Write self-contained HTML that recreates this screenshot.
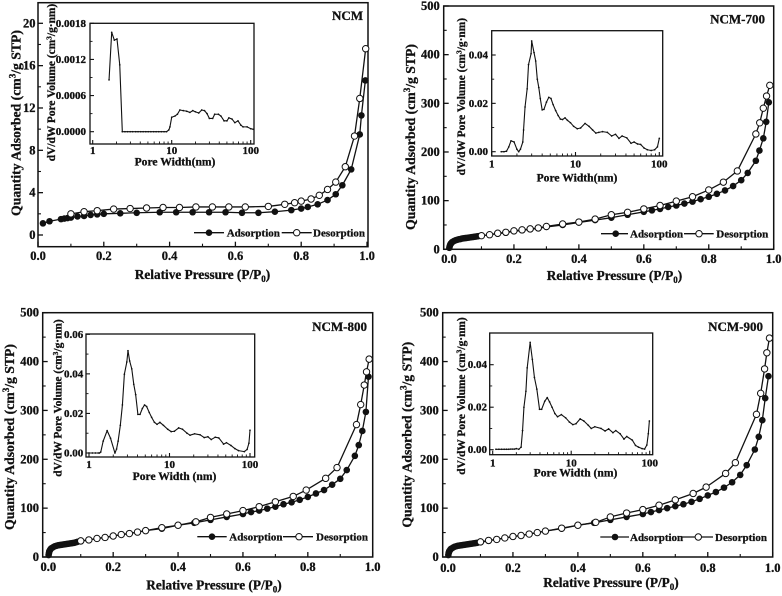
<!DOCTYPE html>
<html lang="en">
<head>
<meta charset="utf-8">
<title>Nitrogen isotherms for NCM samples</title>
<style>
html,body{margin:0;padding:0;background:#fff;width:782px;height:596px;overflow:hidden}
svg{display:block;filter:blur(0.35px)}
text{font-family:"Liberation Serif",serif;font-weight:bold;fill:#111;stroke:#111;stroke-width:0.3px}
.main-title{font-size:13.3px;text-anchor:middle}
.y-title{font-size:13.7px;text-anchor:middle}
.inset-title{font-size:11.6px;text-anchor:middle}
.inset-y{font-size:11.4px;text-anchor:middle}
.legend{font-size:11px}
.name{font-size:13px;text-anchor:end}
.tick{font-size:12.5px}
.inset-tick{font-size:11px}
</style>
</head>
<body>
<svg id="figure" xmlns="http://www.w3.org/2000/svg" width="782" height="596" viewBox="0 0 782 596">
<rect width="782" height="596" fill="#fff"/>

<g id="panel-a">
<text class="name" x="363" y="20">NCM</text>
<text class="main-title" x="202.5" y="279">Relative Pressure (P/P<tspan dy="3" font-size="9">0</tspan><tspan dy="-3">)</tspan></text>
<text class="y-title" transform="translate(20.7,123) rotate(-90)">Quantity Adsorbed (cm<tspan dy="-5" font-size="9">3</tspan><tspan dy="5">/g STP)</tspan></text>
<text class="inset-title" x="175" y="165.7">Pore Width(nm)</text>
<text class="inset-y" transform="translate(55,82.5) rotate(-90)">dV/dW Pore Volume (cm<tspan dy="-3.5" font-size="7.5">3</tspan><tspan dy="3.5">/g·nm)</tspan></text>
<text class="legend" x="226.7" y="236.5">Adsorption</text>
<text class="legend" x="313" y="236.5">Desorption</text>
</g>

<g id="panel-b">
<text class="name" x="765" y="23.3">NCM-700</text>
<text class="main-title" x="614.5" y="280">Relative Pressure (P/P<tspan dy="3" font-size="9">0</tspan><tspan dy="-3">)</tspan></text>
<text class="y-title" transform="translate(415,137) rotate(-90)">Quantity Adsorbed (cm<tspan dy="-5" font-size="9">3</tspan><tspan dy="5">/g STP)</tspan></text>
<text class="inset-title" x="577" y="181.7">Pore Width(nm)</text>
<text class="inset-y" transform="translate(465,96.7) rotate(-90)">dV/dW Pore Volume (cm<tspan dy="-3.5" font-size="7.5">3</tspan><tspan dy="3.5">/g·nm)</tspan></text>
<text class="legend" x="630" y="237.5">Adsorption</text>
<text class="legend" x="716.3" y="237.5">Desorption</text>
</g>

<g id="panel-c">
<text class="name" x="367" y="331">NCM-800</text>
<text class="main-title" x="214" y="589.7">Relative Pressure (P/P<tspan dy="3" font-size="9">0</tspan><tspan dy="-3">)</tspan></text>
<text class="y-title" transform="translate(14,437) rotate(-90)">Quantity Adsorbed (cm<tspan dy="-5" font-size="9">3</tspan><tspan dy="5">/g STP)</tspan></text>
<text class="inset-title" x="174.5" y="480">Pore Width (nm)</text>
<text class="inset-y" transform="translate(61.7,398) rotate(-90)">dV/dW Pore Volume (cm<tspan dy="-3.5" font-size="7.5">3</tspan><tspan dy="3.5">/g·nm)</tspan></text>
<text class="legend" x="229.3" y="540.5">Adsorption</text>
<text class="legend" x="316" y="540.5">Desorption</text>
</g>

<g id="panel-d">
<text class="name" x="763" y="331">NCM-900</text>
<text class="main-title" x="611" y="587">Relative Pressure (P/P<tspan dy="3" font-size="9">0</tspan><tspan dy="-3">)</tspan></text>
<text class="y-title" transform="translate(411.7,434.7) rotate(-90)">Quantity Adsorbed (cm<tspan dy="-5" font-size="9">3</tspan><tspan dy="5">/g STP)</tspan></text>
<text class="inset-title" x="575.5" y="476.7">Pore Width (nm)</text>
<text class="inset-y" transform="translate(465,396) rotate(-90)">dV/dW Pore Volume (cm<tspan dy="-3.5" font-size="7.5">3</tspan><tspan dy="3.5">/g·nm)</tspan></text>
<text class="legend" x="630" y="541">Adsorption</text>
<text class="legend" x="715" y="541">Desorption</text>
</g>
</svg>

<script>
// ---------- data ----------
const pressureTicks = [0, 0.2, 0.4, 0.6, 0.8, 1.0];
const poreTicks = [1, 10, 100];

// NCM
const ncmAdsP = [0.015,0.035,0.07,0.08,0.09,0.10,0.12,0.14,0.16,0.18,0.20,0.25,0.30,0.37,0.42,0.47,0.52,0.57,0.62,0.67,0.72,0.77,0.80,0.82,0.85,0.88,0.905,0.925,0.952,0.978,0.983,0.995];
const ncmAdsQ = [1.1,1.3,1.5,1.55,1.6,1.65,1.75,1.8,1.9,1.95,2.0,2.05,2.1,2.15,2.15,2.15,2.15,2.15,2.1,2.1,2.2,2.35,2.5,2.65,2.9,3.3,3.85,4.7,6.2,9.5,11.3,14.6];
const ncmDesP = [0.10,0.14,0.18,0.23,0.28,0.33,0.38,0.43,0.48,0.53,0.58,0.63,0.70,0.75,0.78,0.80,0.83,0.855,0.88,0.905,0.934,0.962,0.978,0.996];
const ncmDesQ = [2.0,2.2,2.3,2.45,2.5,2.55,2.6,2.6,2.65,2.65,2.65,2.65,2.7,2.9,3.05,3.2,3.4,3.75,4.3,5.0,6.45,9.35,12.9,17.6];
const ncmQTicks = [0, 4, 8, 12, 16, 20];
const ncmPoreW = [1.61,1.74,1.88,2.03,2.2,2.37,2.56,2.76,2.98,3.2,3.5,3.75,4.05,4.35,4.7,5.05,5.45,5.9,6.35,6.85,7.4,8,8.6,9.2,9.5,10,11,11.8,12.7,14,15.5,17,18.5,20,22,24,26,28,30,33,35,39,42,46,50,53,58,63,69,75,80,90,100,108];
const ncmPoreV = [0.00086,0.00165,0.00152,0.00154,0.00111,0,0,0,0,0,0,0,0,0,0,0,0,0,0,0,0,0,0,0.00003,0.00008,0.00024,0.00026,0.00029,0.00036,0.00035,0.00034,0.00032,0.00035,0.00033,0.00031,0.00036,0.00035,0.0003,0.00022,0.00022,0.00029,0.00029,0.00026,0.00018,0.00018,0.00023,0.00021,0.00015,0.00018,0.00011,0.00008,0.00008,0.00005,0.00004];
const ncmVTicks = [0, 0.0006, 0.0012, 0.0018];
const ncmVLabels = ["0.0000", "0.0006", "0.0012", "0.0018"];

// NCM-700
const n700AdsP = [0.001,0.002,0.003,0.004,0.006,0.008,0.01,0.015,0.02,0.025,0.03,0.035,0.04,0.045,0.05,0.055,0.06,0.065,0.07,0.075,0.08,0.085,0.09,0.1,0.125,0.15,0.175,0.2,0.225,0.25,0.275,0.3,0.35,0.4,0.45,0.5,0.55,0.6,0.625,0.65,0.675,0.7,0.725,0.75,0.775,0.8,0.825,0.85,0.875,0.9,0.92,0.945,0.956,0.968,0.977,0.985];
const n700AdsQ = [3,6,8,10,12,13.5,15,17,18.5,19.5,20.5,21,22,22.5,23,23.5,24,24.5,25,25.5,26,26.5,27,28,30,32,34,37,39,41,43,46,50,55,60,65,71,77,80,83,87,90,94,98,103,108,114,121,130,142,157,182,203,228,262,302];
const n700DesP = [0.1,0.125,0.15,0.175,0.2,0.225,0.25,0.275,0.3,0.35,0.4,0.45,0.5,0.55,0.6,0.65,0.7,0.75,0.8,0.845,0.888,0.945,0.957,0.968,0.978,0.988];
const n700DesQ = [28,30,33,35,38,40,42,44,47,52,56,62,71,76,83,90,99,108,122,138,161,237,260,290,315,337];
const n700QTicks = [0, 100, 200, 300, 400, 500];
const n700PoreW = [1.3,1.4,1.5,1.6,1.7,1.85,2.0,2.1,2.2,2.35,2.4,2.5,2.65,2.75,2.95,3.0,3.2,3.35,3.5,3.65,3.8,4.0,4.2,4.5,4.8,5.1,5.4,5.8,6.2,6.6,7,7.5,8,8.7,9.5,10.5,11.5,13,14.5,16,17.5,19,21,24,27,30,33,36,41,46,50,55,60,66,72,80,88,95,100];
const n700PoreV = [0,0,0.0002,0.002,0.0045,0.004,0.001,0,0.001,0.004,0.009,0.0185,0.026,0.036,0.0405,0.0458,0.041,0.0375,0.03,0.0265,0.022,0.0173,0.0175,0.0205,0.0225,0.022,0.0195,0.017,0.015,0.0135,0.0133,0.014,0.013,0.012,0.0105,0.0095,0.0098,0.0117,0.0105,0.009,0.0077,0.008,0.0083,0.008,0.0065,0.0072,0.0055,0.0065,0.0057,0.0035,0.004,0.0032,0.003,0.0015,0.0008,0.0005,0.0008,0.002,0.0055];
const n700VTicks = [0, 0.02, 0.04];
const n700VLabels = ["0.00", "0.02", "0.04"];

// NCM-800
const n800AdsP = [0.001,0.002,0.003,0.004,0.006,0.008,0.01,0.015,0.02,0.025,0.03,0.035,0.04,0.045,0.05,0.055,0.06,0.065,0.07,0.075,0.08,0.085,0.09,0.1,0.125,0.15,0.175,0.2,0.225,0.25,0.275,0.3,0.35,0.4,0.45,0.5,0.55,0.6,0.625,0.65,0.675,0.7,0.725,0.75,0.775,0.8,0.825,0.85,0.875,0.9,0.92,0.945,0.957,0.968,0.979,0.987];
const n800AdsQ = [4,8,11,13,15,17,18,20,22,23,24,24.5,25,25.5,26,26.5,27,27.5,28,28.5,29,30,31,32,35,38,40,43,46,48,51,54,58,65,70,76,82,88,92,95,99,103,108,112,117,123,130,137,148,160,178,207,229,258,297,369];
const n800DesP = [0.1,0.125,0.15,0.175,0.2,0.225,0.25,0.275,0.3,0.35,0.4,0.455,0.5,0.55,0.6,0.65,0.7,0.755,0.795,0.855,0.89,0.95,0.963,0.974,0.981,0.989];
const n800DesQ = [33,35,38,40,43,46,48,51,54,60,65,72,81,88,95,103,113,124,137,161,183,271,312,352,379,405];
const n800QTicks = [0, 100, 200, 300, 400, 500];
const n800PoreW = [1.0,1.1,1.2,1.3,1.35,1.4,1.5,1.68,1.85,2.1,2.2,2.3,2.45,2.6,2.75,2.95,3.05,3.2,3.4,3.6,3.8,4.05,4.3,4.6,4.9,5.2,5.6,6,6.5,7,7.6,8.4,9.5,10.5,11.5,13,14.5,16.5,18,20.5,24,27,30,33,37,41,47,51,58,65,72,85,92,97,100];
const n800PoreV = [0,0,0,0,0,0.0005,0.006,0.0113,0.0075,0,0.002,0.006,0.014,0.0243,0.0398,0.046,0.0517,0.0465,0.0425,0.0347,0.0295,0.0195,0.0195,0.0225,0.0243,0.0235,0.0205,0.018,0.0155,0.0145,0.0155,0.014,0.012,0.0108,0.011,0.0127,0.012,0.01,0.009,0.0097,0.0092,0.0078,0.0082,0.0068,0.008,0.0076,0.0045,0.0052,0.0038,0.0022,0.0012,0.0007,0.0018,0.005,0.0115];
const n800VTicks = [0, 0.02, 0.04, 0.06];
const n800VLabels = ["0.00", "0.02", "0.04", "0.06"];

// NCM-900
const n900AdsP = [0.001,0.002,0.003,0.004,0.006,0.008,0.01,0.015,0.02,0.025,0.03,0.035,0.04,0.045,0.05,0.055,0.06,0.065,0.07,0.075,0.08,0.085,0.09,0.1,0.125,0.15,0.175,0.2,0.225,0.25,0.275,0.3,0.35,0.4,0.45,0.5,0.55,0.6,0.625,0.65,0.675,0.7,0.725,0.75,0.775,0.8,0.825,0.85,0.875,0.9,0.92,0.945,0.957,0.968,0.977,0.987];
const n900AdsQ = [4,8,10,12,14,16,17,19,21,22,23,23.5,24,24.5,25,25.5,26,26.5,27,27.5,28,28.5,29,30,33,36,39,42,44,47,50,53,58,65,70,76,82,88,92,96,100,104,108,113,119,126,133,142,153,168,188,220,246,280,325,370];
const n900DesP = [0.1,0.125,0.15,0.175,0.2,0.225,0.25,0.275,0.3,0.35,0.4,0.455,0.5,0.55,0.6,0.65,0.7,0.755,0.795,0.855,0.885,0.95,0.963,0.975,0.982,0.99];
const n900DesQ = [31,34,36,39,42,44,47,50,53,59,65,71,82,90,97,106,117,130,143,171,193,292,335,385,418,448];
const n900QTicks = [0, 100, 200, 300, 400, 500];
const n900PoreW = [1.1,1.2,1.3,1.4,1.5,1.6,1.7,1.8,1.9,2.0,2.15,2.3,2.4,2.5,2.65,2.75,3.0,3.2,3.4,3.65,3.95,4.2,4.6,4.95,5.3,5.7,6.2,6.7,7.5,8.5,9.5,10.5,11.5,13,14.5,16.5,18,20,24,27,30,34,37,42,47,51,60,66,72,80,86,92,96,99];
const n900PoreV = [0.0002,0.0002,0.0002,0.0002,0.0002,0.0002,0.0003,0.0003,0.0003,0.0005,0.0002,0.0012,0.009,0.02,0.0275,0.0385,0.0505,0.0425,0.034,0.0285,0.019,0.019,0.0228,0.0245,0.0225,0.02,0.017,0.0155,0.0165,0.015,0.013,0.0118,0.0122,0.0145,0.0135,0.0115,0.01,0.0108,0.01,0.0088,0.0098,0.008,0.009,0.0075,0.005,0.0062,0.0045,0.002,0.0012,0.0005,0.0003,0.0022,0.0075,0.0135];
const n900VTicks = [0, 0.02, 0.04];
const n900VLabels = ["0.00", "0.02", "0.04"];

// ---------- drawing ----------
const NS = "http://www.w3.org/2000/svg";

function el(parent, tag, attrs, name) {
  const e = document.createElementNS(NS, tag);
  for (const k in attrs) e.setAttribute(k, attrs[k]);
  
  
  parent.appendChild(e);
  return e;
}

function label(parent, x, y, str, cls, anchor, name) {
  const t = el(parent, "text", {x: x, y: y, "class": cls, "text-anchor": anchor}, name);
  t.textContent = str;
  return t;
}

function tick(parent, x1, y1, x2, y2, w, name) {
  el(parent, "line", {x1: x1, y1: y1, x2: x2, y2: y2, stroke: "#111", "stroke-width": w}, name);
}

function frame(parent, f, w, name) {
  el(parent, "rect", {x: f.l, y: f.t, width: f.r - f.l, height: f.b - f.t, fill: "none", stroke: "#111", "stroke-width": w}, name);
}

function polyline(parent, xs, ys, sx, sy, w, name) {
  const pts = xs.map((v, i) => sx(v).toFixed(2) + "," + sy(ys[i]).toFixed(2)).join(" ");
  el(parent, "polyline", {points: pts, fill: "none", stroke: "#111", "stroke-width": w, "stroke-linejoin": "round"}, name);
}

function drawPanel(id, cfg, d) {
  const g = document.getElementById(id);
  const f = cfg.frame;
  const sx = v => f.x0 + (f.x1 - f.x0) * v;
  const sy = v => f.y0 + (f.y1 - f.y0) * v / cfg.qMax;
  frame(g, f, 1.5, "plot-frame");

  const xStep = pressureTicks[1] - pressureTicks[0];
  pressureTicks.forEach(v => {
    tick(g, sx(v), f.b, sx(v), f.b - 5, 1.3, "x-major-tick");
    label(g, sx(v), cfg.xLabelY, v.toFixed(1), "tick", "middle", "x-tick-label");
    if (v < 1) tick(g, sx(v + xStep / 2), f.b, sx(v + xStep / 2), f.b - 3, 1.1, "x-minor-tick");
  });
  const qStep = d.qTicks[1] - d.qTicks[0];
  d.qTicks.forEach((v, i) => {
    tick(g, f.l, sy(v), f.l + 5, sy(v), 1.3, "y-major-tick");
    label(g, cfg.yLabelX, sy(v) + 4, String(v), "tick", "end", "y-tick-label");
    if (i < d.qTicks.length - 1) tick(g, f.l, sy(v + qStep / 2), f.l + 3, sy(v + qStep / 2), 1.1, "y-minor-tick");
  });

  polyline(g, d.adsP, d.adsQ, sx, sy, 1.3, "adsorption-line");
  polyline(g, d.desP, d.desQ, sx, sy, 1.3, "desorption-line");
  d.adsP.forEach((v, i) => {
    el(g, "circle", {cx: sx(v), cy: sy(d.adsQ[i]), r: 3.3, fill: "#111"}, "adsorption-point");
  });
  d.desP.forEach((v, i) => {
    el(g, "circle", {cx: sx(v), cy: sy(d.desQ[i]), r: 3.2, fill: "#fff", stroke: "#111", "stroke-width": 1}, "desorption-point");
  });

  // inset
  const n = cfg.inset;
  const ix = v => n.x1 + (n.x100 - n.x1) * Math.log10(v) / 2;
  const iy = v => n.y0 + (n.yTop - n.y0) * v / n.vTop;
  el(g, "rect", {x: n.l, y: n.t, width: n.r - n.l, height: n.b - n.t, fill: "#fff"}, "inset-background");
  frame(g, n, 1.3, "inset-frame");
  poreTicks.forEach((v, i) => {
    tick(g, ix(v), n.b, ix(v), n.b - 4, 1.1, "inset-x-major-tick");
    label(g, ix(v), n.xLabelY, String(v), "inset-tick", "middle", "inset-x-tick-label");
    if (i < poreTicks.length - 1) {
      [2, 3, 4, 5, 6, 7, 8, 9].forEach(m => {
        tick(g, ix(v * m), n.b, ix(v * m), n.b - 2.5, 0.9, "inset-x-minor-tick");
      });
    }
  });
  const vStep = d.vTicks[1] - d.vTicks[0];
  d.vTicks.forEach((v, i) => {
    tick(g, n.l, iy(v), n.l + 4, iy(v), 1.1, "inset-y-major-tick");
    label(g, n.yLabelX, iy(v) + 3.5, d.vLabels[i], "inset-tick", "end", "inset-y-tick-label");
    if (i < d.vTicks.length - 1) tick(g, n.l, iy(v + vStep / 2), n.l + 2.5, iy(v + vStep / 2), 0.9, "inset-y-minor-tick");
  });
  polyline(g, d.poreW, d.poreV, ix, iy, 1.1, "inset-distribution-line");
  d.poreW.forEach((v, i) => {
    el(g, "circle", {cx: ix(v), cy: iy(d.poreV[i]), r: 0.85, fill: "#111"}, "inset-distribution-point");
  });

  // legend keys
  const L = cfg.legend;
  tick(g, L.a1, L.y, L.a2, L.y, 1.3, "legend-adsorption-line");
  el(g, "circle", {cx: L.am, cy: L.y, r: 3.3, fill: "#111"}, "legend-adsorption-marker");
  tick(g, L.d1, L.y, L.d2, L.y, 1.3, "legend-desorption-line");
  el(g, "circle", {cx: L.dm, cy: L.y, r: 3.2, fill: "#fff", stroke: "#111", "stroke-width": 1}, "legend-desorption-marker");
}

drawPanel("panel-a", {
  qMax: 20,
  frame: {l: 38, r: 368, t: 2.7, b: 246.7, x0: 38, x1: 367, y0: 235, y1: 23.3},
  xLabelY: 260, yLabelX: 35.5,
  inset: {l: 90, r: 254, t: 23.3, b: 144, x1: 92.7, x100: 250.7, y0: 131.7, yTop: 23.3, vTop: 0.0018, xLabelY: 154, yLabelX: 86},
  legend: {y: 232.7, a1: 194, a2: 224, am: 209, d1: 281.7, d2: 311.7, dm: 296.7}
}, {adsP: ncmAdsP, adsQ: ncmAdsQ, desP: ncmDesP, desQ: ncmDesQ, qTicks: ncmQTicks, poreW: ncmPoreW, poreV: ncmPoreV, vTicks: ncmVTicks, vLabels: ncmVLabels});

drawPanel("panel-b", {
  qMax: 500,
  frame: {l: 443.7, r: 773.7, t: 6, b: 249.3, x0: 449, x1: 773.7, y0: 249.3, y1: 6},
  xLabelY: 263, yLabelX: 439.7,
  inset: {l: 491.7, r: 662.7, t: 30.7, b: 156, x1: 491.7, x100: 659.3, y0: 151.7, yTop: 55, vTop: 0.04, xLabelY: 167.7, yLabelX: 488},
  legend: {y: 233.7, a1: 601, a2: 628, am: 615.7, d1: 684, d2: 713.7, dm: 699}
}, {adsP: n700AdsP, adsQ: n700AdsQ, desP: n700DesP, desQ: n700DesQ, qTicks: n700QTicks, poreW: n700PoreW, poreV: n700PoreV, vTicks: n700VTicks, vLabels: n700VLabels});

drawPanel("panel-c", {
  qMax: 500,
  frame: {l: 42.7, r: 372.7, t: 312.7, b: 557, x0: 48.3, x1: 372.7, y0: 557, y1: 312.7},
  xLabelY: 571, yLabelX: 39,
  inset: {l: 86, r: 254.7, t: 334, b: 457, x1: 89, x100: 250, y0: 453, yTop: 334.3, vTop: 0.06, xLabelY: 468, yLabelX: 83.3},
  legend: {y: 536.7, a1: 197.3, a2: 226.7, am: 212, d1: 283, d2: 313, dm: 299}
}, {adsP: n800AdsP, adsQ: n800AdsQ, desP: n800DesP, desQ: n800DesQ, qTicks: n800QTicks, poreW: n800PoreW, poreV: n800PoreV, vTicks: n800VTicks, vLabels: n800VLabels});

drawPanel("panel-d", {
  qMax: 500,
  frame: {l: 442.7, r: 772.7, t: 312.7, b: 557, x0: 448, x1: 772.7, y0: 557, y1: 312.7},
  xLabelY: 572, yLabelX: 438.7,
  inset: {l: 489.7, r: 652.7, t: 333, b: 454.7, x1: 492.7, x100: 649.7, y0: 449.7, yTop: 364.7, vTop: 0.04, xLabelY: 466.3, yLabelX: 487},
  legend: {y: 537, a1: 600.3, a2: 629, am: 615, d1: 681, d2: 713, dm: 698.3}
}, {adsP: n900AdsP, adsQ: n900AdsQ, desP: n900DesP, desQ: n900DesQ, qTicks: n900QTicks, poreW: n900PoreW, poreV: n900PoreV, vTicks: n900VTicks, vLabels: n900VLabels});
</script>
</body>
</html>
